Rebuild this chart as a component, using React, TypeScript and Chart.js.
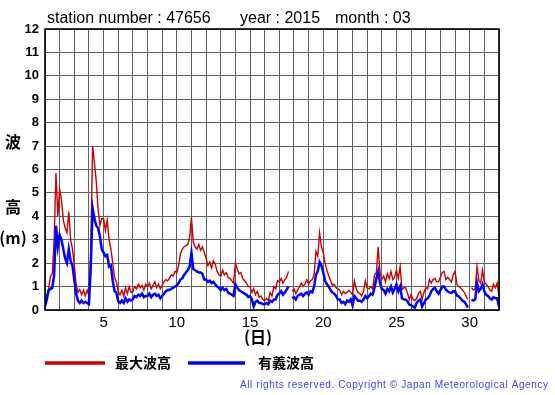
import React, { useEffect, useRef } from 'react';
import { Chart, registerables } from 'chart.js';

Chart.register(...registerables);

// Title
const STATION = 'station number : 47656';
const YEAR = 'year : 2015';
const MONTH = 'month : 03';

// Axis
const X_MIN = 1;
const X_MAX = 32;
const X_LABEL_EVERY = 5;
const Y_MIN = 0;
const Y_MAX = 12;
const SAMPLES_PER_DAY = 8; // 3-hourly readings starting March 1 00:00

const Y_TITLE = ['波', '高', '(m)'];
const X_TITLE = '(日)';
const SERIES_NAMES = ['最大波高', '有義波高'];
const COPYRIGHT = 'All rights reserved. Copyright \u00A9 Japan Meteorological Agency';

// 最大波高 (maximum wave height, m) — 8 readings per day
const maxWave: (number | null)[] = [
  0.3, 0.6, 0.9, 1.45, 1.55, 3.0, 5.85, 4.0, // 1
  5.15, 4.7, 3.85, 3.5, 3.3, 4.2, 3.0, 2.6, // 2
  1.9, 1.1, 0.75, 0.87, 0.65, 0.85, 0.6, 0.85, // 3
  0.6, 2.5, 7.0, 6.3, 5.5, 4.3, 3.6, 3.9, // 4
  3.9, 3.4, 3.85, 3.0, 2.6, 2.0, 1.4, 1.2, // 5
  0.8, 0.65, 0.85, 0.6, 0.95, 0.7, 1.0, 0.75, // 6
  0.8, 1.0, 0.9, 1.1, 0.95, 1.05, 0.85, 1.1, // 7
  1.0, 1.15, 0.9, 1.05, 1.2, 0.95, 1.1, 0.9, // 8
  1.05, 1.2, 1.3, 1.25, 1.35, 1.5, 1.45, 1.65, // 9
  1.6, 1.9, 2.4, 2.6, 2.7, 2.75, 2.8, 3.1, // 10
  3.95, 2.9, 2.7, 2.6, 2.8, 2.55, 2.7, 2.45, // 11
  2.2, 1.9, 2.05, 1.8, 2.1, 1.95, 1.65, 1.5, // 12
  1.45, 1.7, 1.5, 1.6, 1.4, 1.35, 1.25, 1.15, // 13
  2.0, 1.75, 1.55, 1.6, 1.35, 1.25, 1.15, 1.0, // 14
  1.0, 0.75, 0.9, 0.65, 0.8, 0.55, 0.6, 0.45, // 15
  0.4, 0.5, 0.4, 0.75, 0.6, 1.0, 0.9, 1.25, // 16
  1.2, 1.35, 1.15, 1.3, 1.4, 1.65, null, 0.8, // 17
  0.9, 0.7, 0.85, 1.0, 1.15, 1.0, 1.1, 1.3, // 18
  1.1, 1.25, 1.3, 1.5, 2.5, 2.3, 3.3, 2.7, // 19
  2.45, 2.0, 1.7, 1.45, 1.25, 1.05, 1.1, 0.95, // 20
  0.9, 0.85, 0.65, 0.8, 0.7, 0.75, 0.85, 0.75, // 21
  0.65, 1.25, 0.9, 0.75, 0.7, 0.6, 0.8, 1.25, // 22
  0.95, 0.9, 1.0, 0.9, 1.5, 1.6, 2.7, 1.6, // 23
  1.3, 1.45, 1.2, 1.55, 1.35, 1.65, 1.3, 1.4, // 24
  1.7, 1.35, 1.85, 0.87, 0.95, 0.95, 0.72, 0.45, // 25
  0.65, 0.45, 0.4, 0.5, 0.7, 0.8, 0.45, 0.75, // 26
  0.95, 0.9, 1.3, 1.15, 1.3, 1.35, 1.2, 1.2, // 27
  1.4, 1.6, 1.65, 1.3, 1.4, 1.3, 1.2, 1.5, // 28
  1.65, 1.1, 1.0, 0.95, 0.85, 0.75, 0.6, 0.45, // 29
  null, 0.95, 0.85, 0.9, 1.85, 1.25, 1.15, 1.7, // 30
  1.2, 1.1, 1.0, 0.85, 0.8, 1.1, 0.95, 1.15, // 31
  0.6,
];

// 有義波高 (significant wave height, m)
const sigWave: (number | null)[] = [
  0.15, 0.45, 0.85, 0.9, 0.95, 1.5, 3.6, 2.7, // 1
  3.2, 3.0, 2.6, 2.2, 2.0, 2.6, 2.1, 1.9, // 2
  1.3, 0.7, 0.4, 0.3, 0.4, 0.3, 0.35, 0.3, // 3
  0.25, 1.8, 4.35, 3.9, 3.6, 3.5, 3.15, 2.6, // 4
  2.45, 2.3, 2.35, 1.85, 1.9, 1.25, 0.8, 0.75, // 5
  0.37, 0.3, 0.4, 0.3, 0.5, 0.35, 0.45, 0.4, // 6
  0.45, 0.6, 0.55, 0.65, 0.6, 0.7, 0.55, 0.6, // 7
  0.6, 0.7, 0.55, 0.65, 0.7, 0.6, 0.65, 0.5, // 8
  0.6, 0.7, 0.8, 0.85, 0.85, 0.9, 0.95, 1.0, // 9
  1.05, 1.15, 1.3, 1.35, 1.5, 1.6, 1.7, 1.85, // 10
  2.45, 1.75, 1.7, 1.65, 1.6, 1.6, 1.55, 1.3, // 11
  1.3, 1.2, 1.25, 1.15, 1.2, 1.1, 1.0, 0.95, // 12
  0.85, 0.95, 0.85, 0.9, 0.75, 0.7, 0.65, 0.6, // 13
  1.1, 0.95, 0.85, 0.8, 0.75, 0.7, 0.65, 0.55, // 14
  0.6, 0.45, 0.15, 0.35, 0.4, 0.3, 0.3, 0.25, // 15
  0.25, 0.3, 0.25, 0.4, 0.35, 0.45, 0.45, 0.65, // 16
  0.7, 0.8, 0.65, 0.75, 0.87, 1.0, null, 0.5, // 17
  0.55, 0.45, 0.6, 0.65, 0.7, 0.6, 0.7, 0.75, // 18
  0.65, 0.8, 0.75, 1.0, 1.5, 1.65, 2.05, 1.9, // 19
  1.6, 1.25, 1.1, 1.0, 0.85, 0.75, 0.7, 0.6, // 20
  0.45, 0.45, 0.3, 0.35, 0.25, 0.4, 0.35, 0.45, // 21
  0.2, 0.6, 0.5, 0.4, 0.4, 0.35, 0.45, 0.6, // 22
  0.5, 0.6, 0.7, 0.65, 0.95, 1.35, 1.65, 1.15, // 23
  0.9, 0.85, 0.7, 0.9, 0.8, 1.0, 0.75, 0.9, // 24
  1.1, 0.8, 1.0, 0.5, 0.45, 0.45, 0.37, 0.23, // 25
  0.2, 0.15, 0.1, 0.3, 0.4, 0.45, 0.15, 0.3, // 26
  0.45, 0.5, 0.6, 0.8, 0.9, 0.95, 0.8, 0.7, // 27
  0.85, 1.0, 1.0, 0.87, 0.8, 0.75, 0.72, 0.8, // 28
  0.8, 0.62, 0.58, 0.5, 0.4, 0.35, 0.25, 0.1, // 29
  null, 0.45, 0.4, 0.45, 1.15, 0.8, 0.9, 1.1, // 30
  0.8, 0.65, 0.6, 0.5, 0.45, 0.55, 0.5, 0.5, // 31
  0.15,
];

const RED = '#cc0000';
const BLUE = '#0000ff';
const LATIN = '"Liberation Sans", Arial, sans-serif';
const CJK = '"Noto Sans CJK JP", sans-serif';

const toPoints = (arr: (number | null)[]) =>
  arr.map((v, i) => ({ x: X_MIN + i / SAMPLES_PER_DAY, y: v }));

const overlay = {
  id: 'overlay',
  afterDraw(chart: any) {
    const ctx = chart.ctx as CanvasRenderingContext2D;
    const a = chart.chartArea;
    ctx.save();
    // frame
    ctx.strokeStyle = '#000';
    ctx.lineWidth = 1.6;
    ctx.strokeRect(a.left, a.top, a.right - a.left, a.bottom - a.top);

    // header
    ctx.fillStyle = '#000';
    ctx.font = `16px ${LATIN}`;
    ctx.textAlign = 'left';
    ctx.textBaseline = 'alphabetic';
    ctx.fillText(STATION, 47, 23);
    ctx.fillText(YEAR, 240, 23);
    ctx.fillText(MONTH, 335, 23);

    // y title
    ctx.font = `bold 16px ${CJK}`;
    ctx.textAlign = 'center';
    ctx.textBaseline = 'middle';
    ctx.fillText(Y_TITLE[0], 13, 142);
    ctx.fillText(Y_TITLE[1], 13, 207);
    ctx.fillText(Y_TITLE[2], 13, 238);

    // x title
    ctx.fillText(X_TITLE, 258, 337);

    // legend
    ctx.lineWidth = 3.3;
    ctx.strokeStyle = RED;
    ctx.beginPath();
    ctx.moveTo(45, 363);
    ctx.lineTo(105, 363);
    ctx.stroke();
    ctx.strokeStyle = BLUE;
    ctx.beginPath();
    ctx.moveTo(188, 363);
    ctx.lineTo(245, 363);
    ctx.stroke();
    ctx.font = `bold 14px ${CJK}`;
    ctx.textAlign = 'left';
    ctx.fillStyle = '#000';
    ctx.fillText(SERIES_NAMES[0], 115, 363);
    ctx.fillText(SERIES_NAMES[1], 258, 363);

    // copyright
    ctx.font = `10px ${LATIN}`;
    ctx.fillStyle = '#4040ff';
    ctx.textBaseline = 'alphabetic';
    const w = ctx.measureText(COPYRIGHT).width;
    const spacing = (308 - w) / (COPYRIGHT.length - 1);
    (ctx as any).letterSpacing = `${spacing}px`;
    ctx.fillText(COPYRIGHT, 240, 388);
    (ctx as any).letterSpacing = '0px';
    ctx.restore();
  },
};

export default function App() {
  const ref = useRef<HTMLCanvasElement>(null);
  useEffect(() => {
    if (!ref.current) return;
    const chart = new Chart(ref.current, {
      type: 'line',
      data: {
        datasets: [
          {
            label: SERIES_NAMES[0],
            data: toPoints(maxWave) as any,
            borderColor: RED,
            borderWidth: 1.4,
            pointRadius: 0,
            tension: 0,
            spanGaps: false,
            order: 2,
          },
          {
            label: SERIES_NAMES[1],
            data: toPoints(sigWave) as any,
            borderColor: BLUE,
            borderWidth: 2.5,
            pointRadius: 0,
            tension: 0,
            spanGaps: false,
            order: 1,
          },
        ],
      },
      options: {
        animation: false,
        responsive: false,
        devicePixelRatio: 1,
        layout: { padding: { left: 0, top: 29, right: 56, bottom: 0 } },
        plugins: { legend: { display: false }, tooltip: { enabled: false } },
        scales: {
          x: {
            type: 'linear',
            min: X_MIN,
            max: X_MAX,
            afterFit: (s: any) => {
              s.height = 85;
            },
            ticks: {
              stepSize: 1,
              autoSkip: false,
              maxRotation: 0,
              padding: 4,
              color: '#000',
              font: { family: LATIN, size: 15 },
              callback: (v: any) => (Number(v) % X_LABEL_EVERY === 0 ? String(v) : ''),
            },
            grid: { color: '#606060', lineWidth: 1, drawTicks: false },
            border: { display: false },
          },
          y: {
            min: Y_MIN,
            max: Y_MAX,
            afterFit: (s: any) => {
              s.width = 45;
            },
            ticks: {
              stepSize: 1,
              padding: 6,
              color: '#000',
              font: { family: LATIN, size: 13, weight: 'bold' },
            },
            grid: { color: '#606060', lineWidth: 1, drawTicks: false },
            border: { display: false },
          },
        },
      },
      plugins: [overlay],
    });
    return () => chart.destroy();
  }, []);
  return (
    <div style={{ position: 'fixed', left: 0, top: 0, width: 555, height: 395, background: '#fff' }}>
      <canvas ref={ref} width={555} height={395} style={{ display: 'block' }} />
    </div>
  );
}
